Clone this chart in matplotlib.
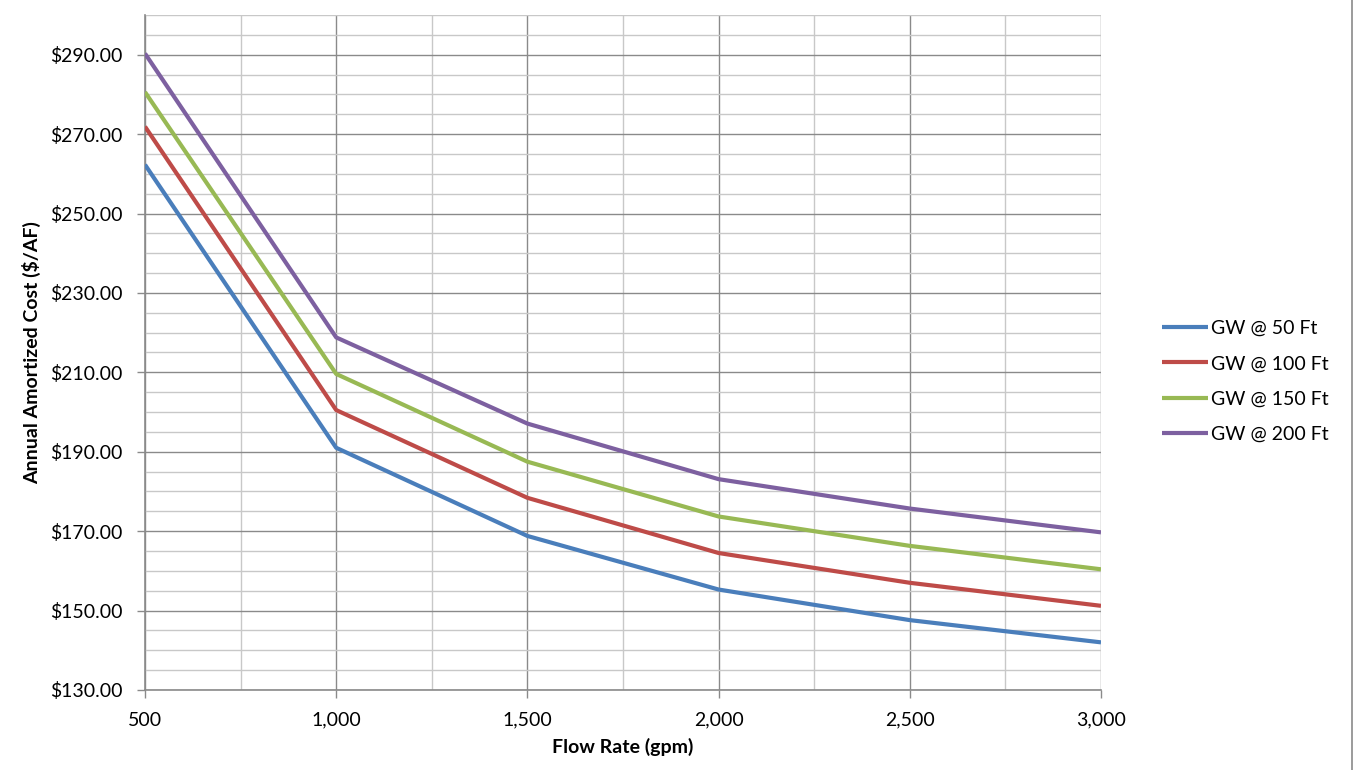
import matplotlib
matplotlib.use("Agg")
import matplotlib.pyplot as plt
from matplotlib.ticker import MultipleLocator, FuncFormatter
from matplotlib.lines import Line2D

flow = [500, 1000, 1500, 2000, 2500, 3000]
gw50 = [262.3, 191.0, 168.8, 155.3, 147.6, 142.0]
gw100 = [271.9, 200.5, 178.4, 164.5, 157.0, 151.2]
gw150 = [280.6, 209.6, 187.5, 173.7, 166.3, 160.4]
gw200 = [290.3, 218.8, 197.1, 183.1, 175.7, 169.7]
labels = ["GW @ 50 Ft", "GW @ 100 Ft", "GW @ 150 Ft", "GW @ 200 Ft"]
colors = ["#4A7EBB", "#BE4B48", "#98B954", "#7D60A0"]

plt.rcParams['font.family'] = ['Lato', 'DejaVu Sans']

fig = plt.figure(figsize=(13.72, 7.70), dpi=100)
ax = fig.add_axes([145/1372, 1-690/770, (1101-145)/1372, (690-15)/770])

for ys, lab, c in zip([gw50, gw100, gw150, gw200], labels, colors):
    ax.plot(flow, ys, color=c, lw=3.0, label=lab, solid_capstyle='butt', zorder=3)

ax.set_xlim(500, 3000)
ax.set_ylim(130, 300)
ax.xaxis.set_major_locator(MultipleLocator(500))
ax.xaxis.set_minor_locator(MultipleLocator(250))
ax.yaxis.set_major_locator(MultipleLocator(20))
ax.yaxis.set_minor_locator(MultipleLocator(5))
ax.set_yticks([130, 150, 170, 190, 210, 230, 250, 270, 290])
ax.yaxis.set_major_formatter(FuncFormatter(lambda v, p: f"${v:,.2f}"))
ax.xaxis.set_major_formatter(FuncFormatter(lambda v, p: f"{int(v):,}"))

ax.grid(which='major', color='#8a8a8a', lw=1.0, zorder=1)
ax.grid(which='minor', color='#c8c8c8', lw=1.0, zorder=0)
ax.tick_params(which='major', length=5.5, width=1, color='#8a8a8a', labelsize=14)
ax.tick_params(axis='y', which='major', pad=10.5)
ax.tick_params(axis='x', which='major', pad=10)
ax.tick_params(which='minor', length=0)
for s in ['top', 'right']:
    ax.spines[s].set_visible(False)
for s in ['left', 'bottom']:
    ax.spines[s].set_color('#8a8a8a')
    ax.spines[s].set_linewidth(1.2)

ax.set_xlabel("Flow Rate (gpm)", fontsize=14, fontweight='bold', labelpad=7)
ax.set_ylabel("Annual Amortized Cost ($/AF)", fontsize=14, fontweight='bold')
ax.yaxis.set_label_coords((41-145)/956, 0.5)

leg = fig.legend(loc='upper left', bbox_to_anchor=(1154/1372, 1-312/770), frameon=False,
                 fontsize=14, handlelength=2.4, handletextpad=0.15, labelspacing=0.95,
                 borderaxespad=0)

fig.add_artist(Line2D([1352/1372, 1352/1372], [0, 1], transform=fig.transFigure,
                      color='#8a8a8a', lw=1.2))

fig.savefig("out.png", dpi=100)
